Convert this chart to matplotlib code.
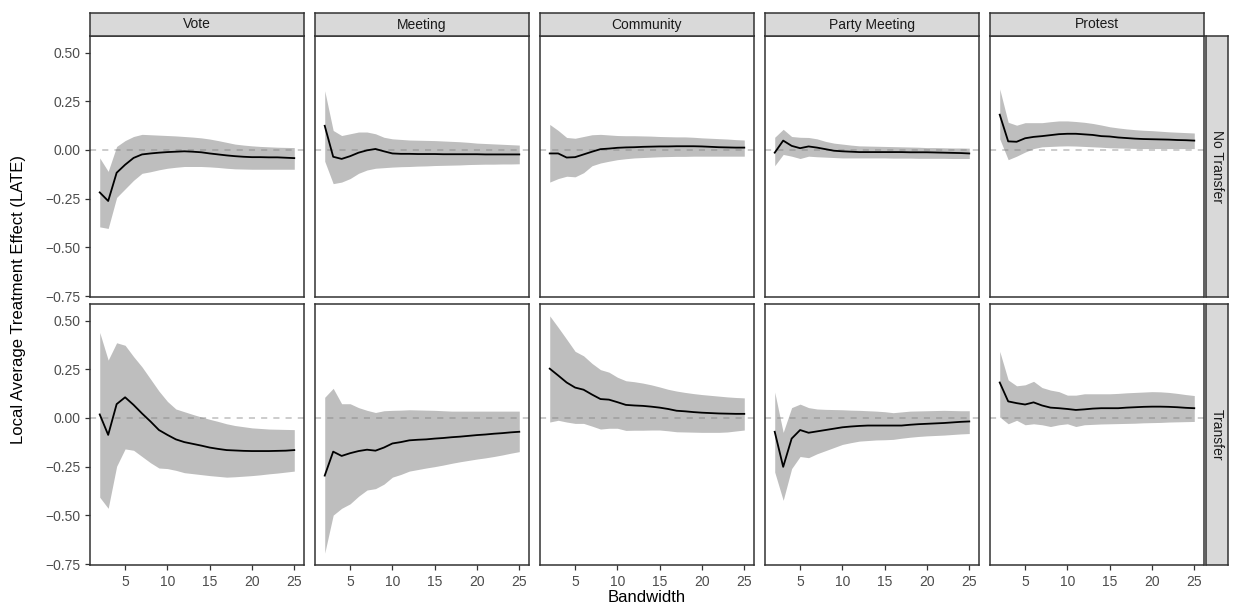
import numpy as np
import matplotlib
matplotlib.use("Agg")
import matplotlib.pyplot as plt

plt.rcParams['font.family'] = ['Liberation Sans', 'DejaVu Sans']

bandwidth = list(range(2, 26))
outcomes = ["Vote", "Meeting", "Community", "Party Meeting", "Protest"]
groups = ["No Transfer", "Transfer"]

# ---- No Transfer ----
vote_nt = [-0.218, -0.262, -0.117, -0.076, -0.041, -0.023, -0.018, -0.014, -0.011, -0.009, -0.007, -0.009,
           -0.012, -0.018, -0.023, -0.028, -0.032, -0.035, -0.037, -0.037, -0.038, -0.038, -0.040, -0.042]
vote_nt_hi = [-0.041, -0.110, 0.018, 0.048, 0.069, 0.080, 0.078, 0.076, 0.074, 0.072, 0.069, 0.066,
              0.062, 0.056, 0.048, 0.039, 0.030, 0.025, 0.021, 0.018, 0.016, 0.014, 0.013, 0.012]
vote_nt_lo = [-0.395, -0.403, -0.244, -0.200, -0.156, -0.120, -0.112, -0.102, -0.094, -0.089, -0.085, -0.085,
              -0.085, -0.087, -0.090, -0.094, -0.097, -0.098, -0.099, -0.099, -0.099, -0.099, -0.099, -0.099]

meet_nt = [0.124, -0.035, -0.046, -0.032, -0.014, -0.002, 0.005, -0.007, -0.018, -0.020, -0.020, -0.021,
           -0.021, -0.021, -0.022, -0.022, -0.022, -0.022, -0.022, -0.023, -0.023, -0.023, -0.023, -0.023]
meet_nt_hi = [0.304, 0.100, 0.074, 0.083, 0.092, 0.092, 0.083, 0.065, 0.057, 0.054, 0.051, 0.050,
              0.049, 0.048, 0.046, 0.044, 0.042, 0.039, 0.035, 0.033, 0.031, 0.029, 0.027, 0.025]
meet_nt_lo = [-0.058, -0.173, -0.165, -0.147, -0.120, -0.103, -0.094, -0.091, -0.088, -0.086, -0.085, -0.083,
              -0.082, -0.080, -0.079, -0.078, -0.077, -0.075, -0.074, -0.073, -0.073, -0.072, -0.072, -0.071]

comm_nt = [-0.018, -0.018, -0.039, -0.037, -0.023, -0.009, 0.004, 0.007, 0.011, 0.013, 0.014, 0.016,
           0.017, 0.018, 0.018, 0.019, 0.019, 0.019, 0.018, 0.016, 0.014, 0.013, 0.012, 0.012]
comm_nt_hi = [0.131, 0.100, 0.064, 0.060, 0.069, 0.078, 0.080, 0.077, 0.074, 0.073, 0.073, 0.072,
              0.071, 0.069, 0.068, 0.067, 0.067, 0.065, 0.062, 0.060, 0.058, 0.056, 0.053, 0.051]
comm_nt_lo = [-0.165, -0.147, -0.135, -0.138, -0.117, -0.081, -0.067, -0.058, -0.050, -0.045, -0.041, -0.039,
              -0.037, -0.035, -0.034, -0.033, -0.033, -0.032, -0.032, -0.032, -0.032, -0.032, -0.032, -0.032]

party_nt = [-0.014, 0.048, 0.021, 0.009, 0.018, 0.012, 0.004, -0.004, -0.007, -0.009, -0.011, -0.011,
            -0.011, -0.011, -0.011, -0.011, -0.012, -0.012, -0.012, -0.013, -0.014, -0.015, -0.016, -0.018]
party_nt_hi = [0.065, 0.106, 0.069, 0.065, 0.064, 0.057, 0.044, 0.035, 0.030, 0.025, 0.021, 0.020,
               0.019, 0.018, 0.017, 0.016, 0.015, 0.014, 0.012, 0.012, 0.011, 0.010, 0.010, 0.009]
party_nt_lo = [-0.081, -0.023, -0.032, -0.044, -0.032, -0.035, -0.037, -0.039, -0.041, -0.041, -0.041, -0.041,
               -0.041, -0.041, -0.042, -0.042, -0.042, -0.043, -0.043, -0.043, -0.043, -0.044, -0.044, -0.044]

prot_nt = [0.181, 0.044, 0.042, 0.060, 0.067, 0.071, 0.076, 0.081, 0.083, 0.083, 0.080, 0.077,
           0.071, 0.069, 0.064, 0.061, 0.058, 0.056, 0.055, 0.054, 0.053, 0.051, 0.050, 0.048]
prot_nt_hi = [0.313, 0.142, 0.127, 0.140, 0.140, 0.140, 0.145, 0.149, 0.149, 0.146, 0.142, 0.136,
              0.128, 0.119, 0.113, 0.108, 0.104, 0.101, 0.099, 0.096, 0.093, 0.091, 0.089, 0.087]
prot_nt_lo = [0.057, -0.050, -0.032, -0.011, 0.007, 0.016, 0.018, 0.020, 0.021, 0.020, 0.018, 0.016,
              0.014, 0.011, 0.010, 0.009, 0.008, 0.007, 0.007, 0.007, 0.007, 0.007, 0.007, 0.007]

# ---- Transfer ----
vote_t = [0.018, -0.087, 0.071, 0.106, 0.067, 0.023, -0.018, -0.062, -0.087, -0.110, -0.124, -0.133,
          -0.142, -0.152, -0.159, -0.165, -0.167, -0.169, -0.170, -0.170, -0.170, -0.169, -0.168, -0.165]
vote_t_hi = [0.439, 0.297, 0.386, 0.373, 0.315, 0.262, 0.200, 0.138, 0.085, 0.046, 0.032, 0.018,
             0.005, -0.007, -0.018, -0.030, -0.039, -0.045, -0.051, -0.054, -0.057, -0.058, -0.059, -0.060]
vote_t_lo = [-0.407, -0.464, -0.248, -0.159, -0.166, -0.198, -0.230, -0.257, -0.260, -0.269, -0.281, -0.286,
             -0.291, -0.296, -0.300, -0.304, -0.302, -0.299, -0.296, -0.292, -0.287, -0.283, -0.278, -0.273]

meet_t = [-0.296, -0.173, -0.195, -0.181, -0.170, -0.163, -0.168, -0.152, -0.131, -0.124, -0.115, -0.112,
          -0.110, -0.106, -0.103, -0.099, -0.096, -0.092, -0.088, -0.085, -0.081, -0.078, -0.074, -0.071]
meet_t_hi = [0.106, 0.152, 0.073, 0.073, 0.053, 0.039, 0.028, 0.037, 0.039, 0.040, 0.042, 0.041,
             0.040, 0.039, 0.037, 0.035, 0.035, 0.035, 0.035, 0.035, 0.035, 0.035, 0.035, 0.035]
meet_t_lo = [-0.694, -0.499, -0.464, -0.441, -0.402, -0.370, -0.363, -0.340, -0.304, -0.290, -0.273, -0.265,
             -0.257, -0.250, -0.242, -0.233, -0.225, -0.218, -0.211, -0.205, -0.198, -0.190, -0.181, -0.173]

comm_t = [0.253, 0.218, 0.182, 0.156, 0.145, 0.120, 0.097, 0.094, 0.081, 0.067, 0.064, 0.062,
          0.058, 0.053, 0.046, 0.037, 0.034, 0.030, 0.027, 0.025, 0.023, 0.022, 0.021, 0.021]
comm_t_hi = [0.524, 0.465, 0.404, 0.342, 0.319, 0.280, 0.248, 0.235, 0.209, 0.191, 0.186, 0.179,
             0.170, 0.159, 0.147, 0.138, 0.131, 0.125, 0.120, 0.116, 0.112, 0.108, 0.105, 0.103]
comm_t_lo = [-0.021, -0.012, -0.021, -0.028, -0.028, -0.042, -0.057, -0.053, -0.053, -0.064, -0.063, -0.063,
             -0.062, -0.062, -0.066, -0.071, -0.072, -0.073, -0.074, -0.074, -0.074, -0.072, -0.067, -0.062]

party_t = [-0.071, -0.251, -0.106, -0.062, -0.076, -0.069, -0.062, -0.055, -0.048, -0.044, -0.041, -0.039,
           -0.039, -0.039, -0.039, -0.039, -0.035, -0.032, -0.030, -0.028, -0.026, -0.023, -0.020, -0.018]
party_t_hi = [0.133, -0.074, 0.053, 0.071, 0.053, 0.046, 0.044, 0.043, 0.042, 0.040, 0.039, 0.037,
              0.035, 0.032, 0.027, 0.031, 0.035, 0.036, 0.037, 0.038, 0.039, 0.038, 0.037, 0.037]
party_t_lo = [-0.278, -0.423, -0.260, -0.198, -0.204, -0.184, -0.168, -0.152, -0.136, -0.127, -0.119, -0.116,
              -0.113, -0.112, -0.110, -0.104, -0.099, -0.095, -0.092, -0.090, -0.088, -0.085, -0.082, -0.080]

prot_t = [0.182, 0.085, 0.076, 0.069, 0.080, 0.064, 0.053, 0.050, 0.046, 0.041, 0.044, 0.048,
          0.050, 0.050, 0.050, 0.053, 0.055, 0.057, 0.058, 0.058, 0.057, 0.055, 0.052, 0.050]
prot_t_hi = [0.342, 0.195, 0.165, 0.170, 0.188, 0.156, 0.143, 0.135, 0.117, 0.117, 0.124, 0.124,
             0.124, 0.124, 0.126, 0.129, 0.131, 0.133, 0.135, 0.134, 0.131, 0.126, 0.120, 0.115]
prot_t_lo = [0.005, -0.030, -0.012, -0.035, -0.030, -0.035, -0.044, -0.035, -0.030, -0.044, -0.035, -0.033,
             -0.031, -0.030, -0.029, -0.028, -0.027, -0.025, -0.024, -0.023, -0.021, -0.020, -0.019, -0.018]

est = [[vote_nt, meet_nt, comm_nt, party_nt, prot_nt],
       [vote_t, meet_t, comm_t, party_t, prot_t]]
hi = [[vote_nt_hi, meet_nt_hi, comm_nt_hi, party_nt_hi, prot_nt_hi],
      [vote_t_hi, meet_t_hi, comm_t_hi, party_t_hi, prot_t_hi]]
lo = [[vote_nt_lo, meet_nt_lo, comm_nt_lo, party_nt_lo, prot_nt_lo],
      [vote_t_lo, meet_t_lo, comm_t_lo, party_t_lo, prot_t_lo]]

W, H = 1238, 611
fig = plt.figure(figsize=(W / 100, H / 100), dpi=100)


def rect(x0, y0, x1, y1):
    return [x0 / W, 1 - y1 / H, (x1 - x0) / W, (y1 - y0) / H]


def strip(r, label, rot):
    sax = fig.add_axes(r)
    sax.set_facecolor('#D9D9D9')
    sax.set_xticks([])
    sax.set_yticks([])
    for s in sax.spines.values():
        s.set_color('#333333')
        s.set_linewidth(1.1)
    sax.text(0.5, 0.5, label, ha='center', va='center', rotation=rot,
             fontsize=10, color='#1A1A1A', transform=sax.transAxes)


col_x = [90, 315, 540, 765, 990]
pw = 214
row_y = [(36, 297), (304, 565)]
yticks = [-0.75, -0.5, -0.25, 0.0, 0.25, 0.5]

for r in range(2):
    for c in range(5):
        ax = fig.add_axes(rect(col_x[c], row_y[r][0], col_x[c] + pw, row_y[r][1]))
        ax.fill_between(bandwidth, lo[r][c], hi[r][c], color='#BEBEBE', lw=0)
        ax.axhline(0, color='#7F7F7F', alpha=0.5, ls=(0, (4, 4)), lw=1.1)
        ax.plot(bandwidth, est[r][c], color='black', lw=1.3)
        ax.set_xlim(0.85, 26.15)
        ax.set_ylim(-0.755, 0.585)
        ax.set_xticks([5, 10, 15, 20, 25])
        ax.set_yticks(yticks)
        ax.set_yticklabels([f"{v:.2f}".replace('-', '\u2212') for v in yticks])
        for s in ax.spines.values():
            s.set_color('#333333')
            s.set_linewidth(1.1)
        ax.tick_params(colors='#333333', labelcolor='#4D4D4D', labelsize=10, length=3.5, width=0.9)
        if c != 0:
            ax.tick_params(axis='y', left=False, labelleft=False)
        if r != 1:
            ax.tick_params(axis='x', bottom=False, labelbottom=False)
        if r == 0:
            strip(rect(col_x[c], 13, col_x[c] + pw, 36), outcomes[c], 0)
    strip(rect(1206, row_y[r][0], 1228, row_y[r][1]), groups[r], -90)

fig.text(19 / W, 1 - 300 / H, "Local Average Treatment Effect (LATE)", rotation=90,
         ha='center', va='center', fontsize=12, color='black')
fig.text(647 / W, 1 - 598 / H, "Bandwidth", ha='center', va='center', fontsize=12, color='black')

fig.savefig("out.png", dpi=100)
